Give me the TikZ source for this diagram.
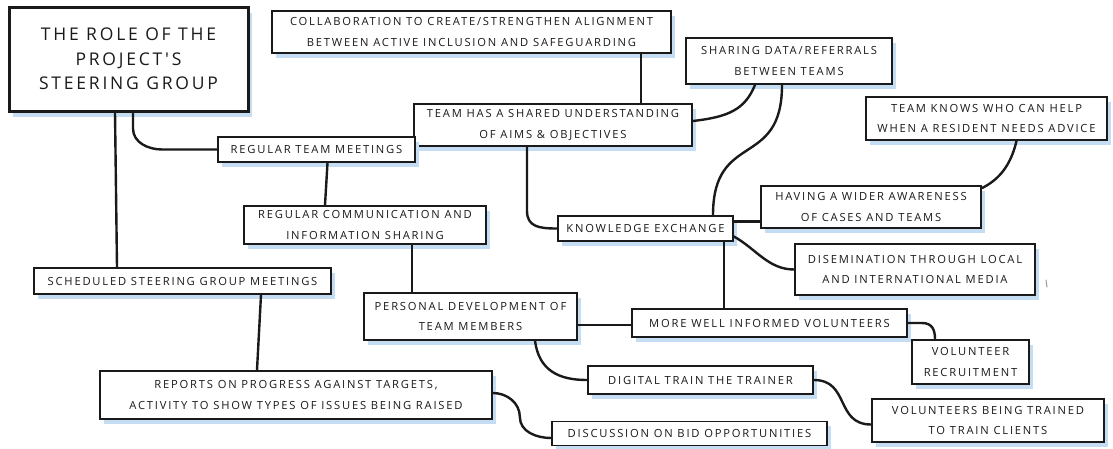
\documentclass[tikz,border=0pt]{standalone}
\usepackage{fontspec}
\newfontfamily\sketchfont{Open Sans}[LetterSpace=16]
\usetikzlibrary{shadows,calc}
\definecolor{shadowblue}{HTML}{C4DDF3}
\definecolor{ink}{HTML}{1A1A1A}
\tikzset{
  boxbase/.style={draw=ink, line width=1.7pt, fill=white, align=center,
    inner sep=0pt, text=ink,
    font=\sketchfont\fontsize{11.2}{20.5}\selectfont},
  card/.style={boxbase,
    drop shadow={shadow xshift=3.5pt, shadow yshift=-4.5pt, fill=shadowblue, opacity=1}},
  headcard/.style={boxbase, line width=3pt,
    font=\sketchfont\fontsize{17.5}{24.5}\selectfont,
    drop shadow={shadow xshift=4pt, shadow yshift=-6pt, fill=shadowblue, opacity=1}},
  link/.style={draw=ink, line width=2.4pt, line cap=round, line join=round},
}
\begin{document}
\begin{tikzpicture}[x=1pt,y=1pt]
\useasboundingbox[fill=white] (0,0) rectangle (1113,-448);

% boxes (centre positions, sizes in pt)
\node[headcard, minimum width=239pt, minimum height=104pt] (title) at (128.5,-59)
  {THE ROLE OF THE\\PROJECT'S\\STEERING GROUP};
\node[card, minimum width=399pt, minimum height=42pt] (collab) at (471.5,-32)
  {COLLABORATION TO CREATE/STRENGTHEN ALIGNMENT\\BETWEEN ACTIVE INCLUSION AND SAFEGUARDING};
\node[card, minimum width=206pt, minimum height=46pt] (share) at (789,-61)
  {SHARING DATA/REFERRALS\\BETWEEN TEAMS};
\node[card, minimum width=278pt, minimum height=42pt] (shared) at (553,-125)
  {TEAM HAS A SHARED UNDERSTANDING\\OF AIMS \& OBJECTIVES};
\node[card, minimum width=241pt, minimum height=43pt] (knows) at (986.5,-118.5)
  {TEAM KNOWS WHO CAN HELP\\WHEN A RESIDENT NEEDS ADVICE};
\node[card, minimum width=197pt, minimum height=25pt] (meetings) at (316.5,-149.5)
  {REGULAR TEAM MEETINGS};
\node[card, minimum width=242pt, minimum height=38pt] (comm) at (365,-225)
  {REGULAR COMMUNICATION AND\\INFORMATION SHARING};
\node[card, minimum width=175pt, minimum height=25pt] (kx) at (645.5,-228.5)
  {KNOWLEDGE EXCHANGE};
\node[card, minimum width=220pt, minimum height=42pt] (aware) at (871,-207)
  {HAVING A WIDER AWARENESS\\OF CASES AND TEAMS};
\node[card, minimum width=240pt, minimum height=51pt] (dissem) at (915,-269.5)
  {DISEMINATION THROUGH LOCAL\\AND INTERNATIONAL MEDIA};
\node[card, minimum width=297pt, minimum height=26pt] (sched) at (182.5,-281)
  {SCHEDULED STEERING GROUP MEETINGS};
\node[card, minimum width=213pt, minimum height=47pt] (personal) at (470.5,-316.5)
  {PERSONAL DEVELOPMENT OF\\TEAM MEMBERS};
\node[card, minimum width=275pt, minimum height=28pt] (informed) at (769.5,-323)
  {MORE WELL INFORMED VOLUNTEERS};
\node[card, minimum width=117pt, minimum height=44pt] (recruit) at (970.5,-362)
  {VOLUNTEER\\RECRUITMENT};
\node[card, minimum width=225pt, minimum height=28pt] (digital) at (700.5,-380)
  {DIGITAL TRAIN THE TRAINER};
\node[card, minimum width=392pt, minimum height=48pt] (reports) at (296,-395)
  {REPORTS ON PROGRESS AGAINST TARGETS,\\ACTIVITY TO SHOW TYPES OF ISSUES BEING RAISED};
\node[card, minimum width=232pt, minimum height=43pt] (trained) at (988,-420.5)
  {VOLUNTEERS BEING TRAINED\\TO TRAIN CLIENTS};
\node[card, minimum width=275pt, minimum height=24pt] (bid) at (689.5,-433.5)
  {DISCUSSION ON BID OPPORTUNITIES};

% connectors
\draw[link] ([xshift=-13.5pt]title.south) -- ([xshift=-65.5pt]sched.north);
\draw[link] ([xshift=4.5pt]title.south) -- ++(0,-16)
  to[out=-90,in=180] ([xshift=-55pt]meetings.west) -- (meetings.west);
\draw[link] ([xshift=11pt]meetings.south) -- ([xshift=-40pt]comm.north);
\draw[link] ([xshift=47pt]comm.south) -- ([xshift=-58.5pt]personal.north);
\draw[link] ([xshift=169.5pt]collab.south) -- ([xshift=88pt]shared.north);
\draw[link] ([yshift=4pt]shared.east) .. controls +(35,4) and +(-10,-25) .. ([xshift=-34pt]share.south);
\draw[link] ([xshift=-7pt]share.south) .. controls +(0,-85) and +(0,85) .. ([xshift=67.5pt]kx.north);
\draw[link] ([xshift=-26pt]shared.south) -- ++(0,-64) .. controls +(0,-16) and +(-18,0) .. (kx.west);
\draw[link] ([yshift=7pt]kx.east) -- ([yshift=7pt]kx.east -| aware.west);
\draw[link] ([yshift=-3pt]aware.north east) .. controls +(16,8) and +(-6,-26) .. ([xshift=30pt]knows.south);
\draw[link] ([yshift=-8pt]kx.east) .. controls +(22,-12) and +(-26,0) .. (dissem.west);
\draw[link] ([xshift=78.5pt]kx.south) -- ([xshift=-45.5pt]informed.north);
\draw[link] ([yshift=-8.5pt]personal.east) -- ([yshift=-8.5pt]personal.east -| informed.west);
\draw[link] (informed.east) -- ++(14,0) .. controls +(10,0) and +(0,10) .. ([xshift=-35.5pt]recruit.north);
\draw[link] ([xshift=64.5pt]personal.south) .. controls +(4,-30) and +(-28,0) .. (digital.west);
\draw[link] (digital.east) .. controls +(36,0) and +(-36,0) .. ([yshift=-4pt]trained.west);
\draw[link] ([xshift=78.5pt]sched.south) -- ([xshift=-39pt]reports.north);
\draw[link] ([yshift=2pt]reports.east) to[out=0,in=90] ++(27,-24)
  to[out=-90,in=180] ([yshift=-4.5pt]bid.west);

% small stray pen mark right of the media box
\draw[ink!45, line width=1pt, line cap=round] (1046,-280) -- (1047,-287);
\end{tikzpicture}
\end{document}
